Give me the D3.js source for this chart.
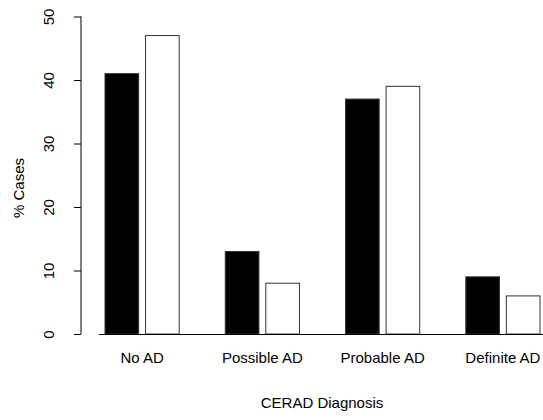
<!DOCTYPE html>
<html>
<head>
<meta charset="utf-8">
<script src="https://cdn.jsdelivr.net/npm/d3@7"></script>
<style>
    body { margin: 0; background: #fff; }
    text { font-family: "Liberation Sans", Arial, sans-serif; fill: #000; }
</style>
</head>
<body>
<div id="chart"></div>
<script>
const categories = ["No AD", "Possible AD", "Probable AD", "Definite AD"];
const seriesNames = ["black", "white"];
const blackValues = [41, 13, 37, 9];
const whiteValues = [47, 8, 39, 6];
const yTicks = [0, 10, 20, 30, 40, 50];

const width = 543;
const height = 420;

const data = categories.map((c, i) => ({
    category: c,
    values: [
        { series: "black", value: blackValues[i] },
        { series: "white", value: whiteValues[i] }
    ]
}));

const svg = d3.select("#chart")
    .append("svg")
    .attr("width", width)
    .attr("height", height);

const x0 = d3.scaleBand()
    .domain(categories)
    .range([105, 540])
    .paddingInner(0.383)
    .paddingOuter(0);

const x1 = d3.scaleBand()
    .domain(seriesNames)
    .range([0, x0.bandwidth()])
    .paddingInner(0.17)
    .paddingOuter(0);

const y = d3.scaleLinear()
    .domain([0, 50])
    .range([334, 16.5]);

// bars
const groups = svg.selectAll(".group")
    .data(data)
    .enter()
    .append("g")
    .attr("class", "group")
    .attr("transform", d => `translate(${x0(d.category)},0)`);

groups.selectAll("rect")
    .data(d => d.values)
    .enter()
    .append("rect")
    .attr("x", d => x1(d.series))
    .attr("y", d => y(d.value))
    .attr("width", x1.bandwidth())
    .attr("height", d => y(0) - y(d.value))
    .attr("fill", d => d.series === "black" ? "#000" : "#fff")
    .attr("stroke", "#333")
    .attr("stroke-width", 1);

// baseline
svg.append("line")
    .attr("x1", 99)
    .attr("x2", 543)
    .attr("y1", y(0) + 0.5)
    .attr("y2", y(0) + 0.5)
    .attr("stroke", "#000")
    .attr("stroke-width", 1.2);

// y axis
const yAxis = d3.axisLeft(y)
    .tickValues(yTicks)
    .tickSize(7)
    .tickPadding(0)
    .tickFormat(d3.format("d"));

const yg = svg.append("g")
    .attr("transform", "translate(81,0)")
    .call(yAxis);

yg.select(".domain")
    .attr("d", `M0,${y(0)}V${y(50)}`)
    .attr("stroke", "#000");

yg.selectAll(".tick line").attr("stroke", "#000");

yg.selectAll(".tick text")
    .attr("x", null)
    .attr("dy", null)
    .attr("text-anchor", "middle")
    .attr("transform", "translate(-27,0) rotate(-90)")
    .style("font-size", "15px")
    .style("font-family", "'Liberation Sans', Arial, sans-serif");

// category labels
svg.selectAll(".cat-label")
    .data(categories)
    .enter()
    .append("text")
    .attr("class", "cat-label")
    .attr("x", d => x0(d) + x0.bandwidth() / 2)
    .attr("y", 363)
    .attr("text-anchor", "middle")
    .style("font-size", "15px")
    .text(d => d);

// axis titles
svg.append("text")
    .attr("x", 322)
    .attr("y", 408)
    .attr("text-anchor", "middle")
    .style("font-size", "15px")
    .text("CERAD Diagnosis");

svg.append("text")
    .attr("transform", "translate(24,188) rotate(-90)")
    .attr("text-anchor", "middle")
    .style("font-size", "15px")
    .text("% Cases");
</script>
</body>
</html>
